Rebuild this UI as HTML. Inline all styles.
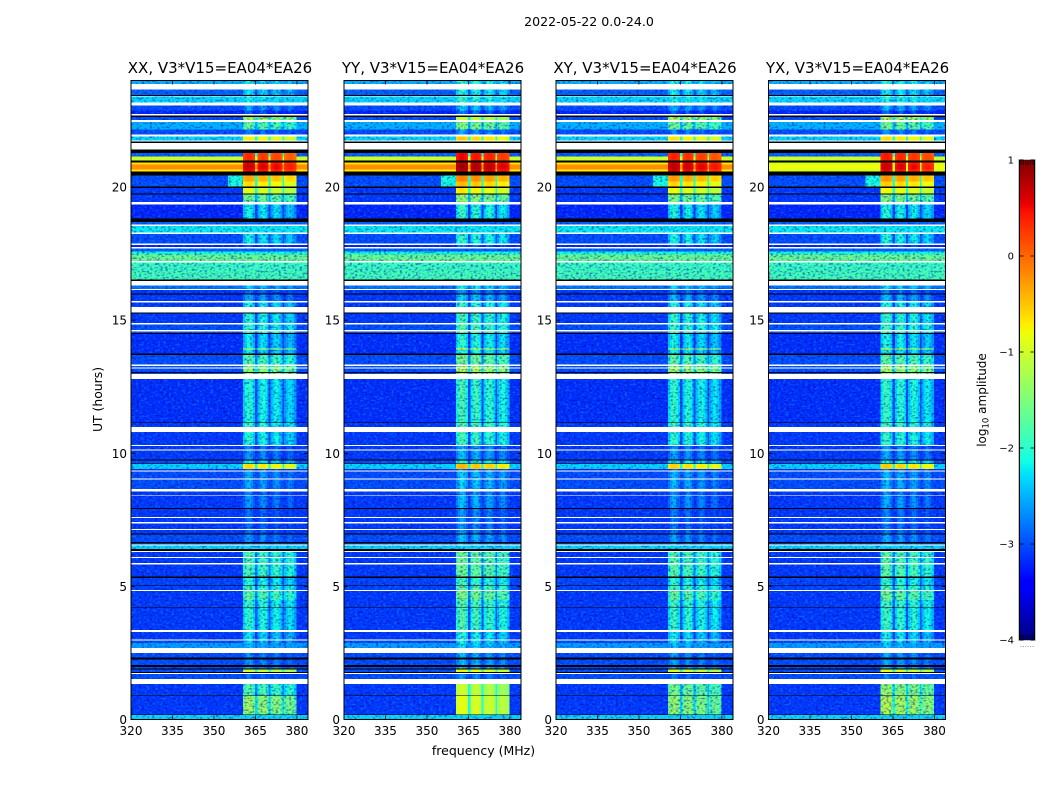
<!DOCTYPE html>
<html>
<head>
<meta charset="utf-8">
<title>2022-05-22 spectrogram panels</title>
<style>
html,body{margin:0;padding:0;background:#fff}
svg{display:block}
text{font-family:"DejaVu Sans","Liberation Sans",sans-serif;fill:#000}
</style>
</head>
<body>
<svg id="chart" xmlns="http://www.w3.org/2000/svg" width="1050" height="800" viewBox="0 0 1050 800">
  <defs>
    <filter id="speckleLight" x="0" y="0" width="100%" height="100%" color-interpolation-filters="sRGB">
      <feTurbulence type="fractalNoise" baseFrequency="0.36 0.5" numOctaves="1" seed="4"/>
      <feColorMatrix type="matrix" values="0 0 0 0 0.05  0 0 0 0 0.6  0 0 0 0 1  5 0 0 0 -2.55"/>
    </filter>
    <filter id="speckleDark" x="0" y="0" width="100%" height="100%" color-interpolation-filters="sRGB">
      <feTurbulence type="fractalNoise" baseFrequency="0.38 0.52" numOctaves="1" seed="11"/>
      <feColorMatrix type="matrix" values="0 0 0 0 0  0 0 0 0 0  0 0 0 0 0.6  0 5 0 0 -2.55"/>
    </filter>
  </defs>
  <text x="589" y="26" font-size="12.6" text-anchor="middle">2022-05-22 0.0-24.0</text>
  <text x="483.5" y="755" font-size="12.5" text-anchor="middle">frequency (MHz)</text>
  <text transform="translate(102 399.5) rotate(-90)" font-size="12.4" text-anchor="middle">UT (hours)</text>
  <text transform="translate(986 400) rotate(-90)" font-size="12" text-anchor="middle">log<tspan font-size="8.5" dy="2.5">10</tspan><tspan dy="-2.5"> amplitude</tspan></text>
  <g id="panels"></g>
  <g id="colorbar"></g>
</svg>
<script>
// ---- chart data ----
const panelTitles = ["XX, V3*V15=EA04*EA26", "YY, V3*V15=EA04*EA26", "XY, V3*V15=EA04*EA26", "YX, V3*V15=EA04*EA26"];
const panelWindowGain = [0, 0.2, 0.05, 0.1];
const freqTicks = [320, 335, 350, 365, 380];
const hourTicks = [0, 5, 10, 15, 20];
const freqRange = [320, 384];
const hourRange = [0, 24];
const colorTicks = [-4, -3, -2, -1, 0, 1];
const colorRange = [-4, 1];
// receiver sub-band edges in MHz and their relative log10 brightness
const windowStart = [360.5, 365.7, 370.5, 375.3];
const windowEnd = [364.8, 369.8, 374.7, 379.7];
const windowOffset = [0.08, 0, -0.08, -0.2];
// bandpass shape across one sub-band, relative log10 amplitude per sub-channel
const windowProfile = [-0.3, -0.1, 0.05, 0.05, -0.1, -0.3];
// W = flagged (white), K = no data (black)
const W = "white";
const K = "black";
// [start hour, background log10 amp, sub-band log10 amp]; each row runs to the next start
const scanRows = [
[0,-2.3,-2.3],[0.16,K,K],[0.19,-3.1,-1.45],[0.88,K,K],[0.91,-3.1,-1.8],[1.33,W,W],[1.53,-3,-2.9],[1.71,W,W],
[1.74,K,K],[1.78,-3,-1],[1.88,K,K],[1.92,-3,-2.6],[1.98,K,K],[2.05,-3,-2.7],[2.26,K,K],[2.33,-3,-2.7],
[2.5,W,W],[2.68,-2.6,-2.5],[2.88,-3,-2.4],[2.96,W,W],[3.01,-3.1,-2.3],[3.28,W,W],[3.36,-3.1,-2.05],[4.19,K,K],
[4.21,-3.1,-2],[4.48,-3.1,-1.75],[4.82,W,W],[4.86,-3.05,-1.9],[5.01,K,K],[5.04,-3.05,-2.1],[5.31,K,K],[5.37,-3.1,-1.85],
[5.83,W,W],[5.87,-3.1,-1.85],[6.07,W,W],[6.11,-3.1,-1.85],[6.29,W,W],[6.33,K,K],[6.4,-2.3,-2.3],[6.54,W,W],
[6.57,-2.9,-2.8],[6.61,K,K],[6.66,-3,-2.7],[6.95,K,K],[6.99,-3.1,-2.9],[7.12,W,W],[7.16,-3.1,-2.9],[7.37,W,W],
[7.41,-3.1,-2.9],[7.57,W,W],[7.61,-3.1,-2.9],[7.9,K,K],[7.94,-3.1,-2.7],[8.39,W,W],[8.42,-3.1,-2.8],[8.57,W,W],
[8.65,-3,-2.6],[9.02,W,W],[9.06,-3,-2.6],[9.31,W,W],[9.36,-3.2,-3],[9.4,-2.3,-0.7],[9.59,K,K],[9.62,-3,-2.2],
[9.73,K,K],[9.76,-3.1,-2.7],[10.11,W,W],[10.15,-3.1,-2.8],[10.27,W,W],[10.31,-3.1,-2.1],[10.79,W,W],[10.99,-3.1,-2],
[11.13,K,K],[11.16,-3.15,-2.1],[12.78,W,W],[12.98,-3,-1.4],[13.01,K,K],[13.05,-3,-1.4],[13.19,W,W],[13.23,-3,-1.4],
[13.28,W,W],[13.33,-3,-1.8],[13.69,K,K],[13.74,-3.15,-2.25],[13.9,-3.15,-1],[13.94,-3.15,-2.25],[14.48,K,K],[14.51,-3,-2],
[14.58,W,W],[14.62,-3,-2],[14.84,W,W],[14.89,-3.1,-2.1],[15.24,K,K],[15.28,W,W],[15.49,-3.1,-2.2],[15.67,W,W],
[15.71,-3.1,-2.6],[15.97,K,K],[16,-3.1,-2.9],[16.13,W,W],[16.16,-2.8,-2.4],[16.3,W,W],[16.47,K,K],[16.52,-1.85,-1.85],
[16.84,-1.9,-1.9],[17.17,W,W],[17.22,-1.6,-1.6],[17.46,-2.1,-2.1],[17.57,-2.9,-2.9],[17.69,W,W],[17.74,-3.2,-3],[17.82,W,W],
[17.87,-3,-2.2],[18.23,W,W],[18.29,-2.2,-2.2],[18.53,W,W],[18.59,-2.9,-2.9],[18.69,K,K],[18.81,-3.2,-2.2],[19.34,W,W],
[19.43,-3.1,-1.6],[19.72,K,K],[19.76,-3.1,-0.95],[19.97,K,K],[20.02,-3,-0.7],[20.2,-3,-0.4],[20.43,K,K],[20.58,-0.7,0.45],[20.66,-0.2,0.6],
[20.85,-0.65,0.5],[20.92,K,K],[21,-1,0.25],[21.15,-2.9,0.25],[21.27,K,K],[21.4,W,W],[21.66,K,K],[21.71,W,W],
[21.75,-2.3,-0.8],[21.9,W,W],[21.97,-3,-2.8],[22.16,-2.5,-1.7],[22.45,W,W],[22.52,-3,-1.3],[22.62,K,K],[22.68,W,W],
[22.74,-3.2,-3],[22.87,-3,-2.6],[23.06,W,W],[23.18,-2.3,-2.2],[23.4,W,W],[23.42,K,K],[23.46,-2.9,-2.3],[23.66,W,W],
[23.87,-2.5,-2.2]
];
// [panel index, start hour, background, sub-band] replacements where one product differs
const panelOverrides = [
[0,0.19,-3.1,-1.35],[1,0.19,-3.1,-0.95],[2,0.19,-3.1,-1.4],[3,0.19,-3.1,-1.2],
[1,0.91,-3.1,-1.1],[2,0.91,-3.1,-1.6],[3,0.91,-3.1,-1.4],
[3,20.58,-1.0,0.45],[3,20.66,-0.8,0.6],[3,20.85,-1.0,0.5]
];
// [start hour, end hour, start MHz, end MHz, log10 amp] broad emission beside the sub-bands
const shoulders = [[20.02,20.43,355,360.5,-2.1]];
const panelLeft = [131, 344, 556, 768.5];
const panelWidth = 177;
const plotTop = 80.5;
const plotBottom = 719.5;
const cbarLeft = 1019.5;
const cbarRight = 1034.5;
const cbarTop = 160;
const cbarBottom = 640;

// ---- helpers ----
const NS = "http://www.w3.org/2000/svg";
function make(parent, tag, attrs) {
  const node = document.createElementNS(NS, tag);
  for (const k in attrs) node.setAttribute(k, attrs[k]);
  parent.appendChild(node);
  return node;
}
function lerp(stops, t) {
  for (let i = 1; i < stops.length; i++) {
    if (t <= stops[i][0]) {
      const a = stops[i - 1], b = stops[i];
      return a[1] + (b[1] - a[1]) * (t - a[0]) / (b[0] - a[0]);
    }
  }
  return stops[stops.length - 1][1];
}
const jetR = [[0,0],[0.35,0],[0.66,1],[0.89,1],[1,0.5]];
const jetG = [[0,0],[0.125,0],[0.375,1],[0.64,1],[0.91,0],[1,0]];
const jetB = [[0,0.5],[0.11,1],[0.34,1],[0.65,0],[1,0]];
function colorOf(level) {
  if (level === W) return "#fff";
  if (level === K) return "#000";
  const t = Math.max(0, Math.min(1, (level - colorRange[0]) / (colorRange[1] - colorRange[0])));
  const c = [jetR, jetG, jetB].map(s => Math.round(255 * lerp(s, t)));
  return "rgb(" + c.join(",") + ")";
}
function xScale(p, mhz) { return panelLeft[p] + (mhz - freqRange[0]) / (freqRange[1] - freqRange[0]) * panelWidth; }
function yScale(h) { return plotBottom - (h - hourRange[0]) / (hourRange[1] - hourRange[0]) * (plotBottom - plotTop); }
function cbarY(v) { return cbarBottom - (v - colorRange[0]) / (colorRange[1] - colorRange[0]) * (cbarBottom - cbarTop); }

function cell(parent, p, f0, f1, h0, h1, level) {
  const r = make(parent, "rect", {
    x: xScale(p, f0), width: xScale(p, f1) - xScale(p, f0) + 0.4,
    y: yScale(h1), height: yScale(h0) - yScale(h1),
    fill: colorOf(level), "shape-rendering": "crispEdges"
  });
  
  
  return r;
}
function rowLevels(p, i) {
  let bg = scanRows[i][1], band = scanRows[i][2];
  for (const o of panelOverrides) {
    if (o[0] === p && o[1] === scanRows[i][0]) { bg = o[2]; band = o[3]; return [bg, band, 0]; }
  }
  return [bg, band, panelWindowGain[p]];
}

// ---- panels ----
const panelsRoot = document.getElementById("panels");
const strongLevel = -1.2;
panelTitles.forEach(function (title, p) {
  const g = make(panelsRoot, "g", {});
  
  
  const clipId = "clip" + p;
  const cp = make(g, "clipPath", { id: clipId });
  make(cp, "rect", { x: panelLeft[p], y: plotTop, width: panelWidth, height: plotBottom - plotTop });

  const cells = make(g, "g", { "clip-path": "url(#" + clipId + ")" });
  
  
  const weak = make(cells, "g", {});
  
  
  const light = make(cells, "rect", { x: panelLeft[p], y: plotTop, width: panelWidth, height: plotBottom - plotTop, filter: "url(#speckleLight)", opacity: 0.42 });
  
  
  const dark = make(cells, "rect", { x: panelLeft[p], y: plotTop, width: panelWidth, height: plotBottom - plotTop, filter: "url(#speckleDark)", opacity: 0.45 });
  
  
  const strong = make(cells, "g", {});
  
  

  scanRows.forEach(function (row, i) {
    const h0 = row[0];
    const h1 = i + 1 < scanRows.length ? scanRows[i + 1][0] : hourRange[1];
    if (row[1] === W || row[1] === K) {
      cell(strong, p, freqRange[0], freqRange[1], h0, h1, row[1]);
      return;
    }
    const lv = rowLevels(p, i);
    const bg = lv[0], band = lv[1], gain = lv[2];
    cell(bg > strongLevel ? strong : weak, p, freqRange[0], freqRange[1], h0, h1, bg);
    if (band > bg) {
      const bright = band + gain > -1.7;
      const profileScale = band > -1 ? 0.3 : (bright ? 0.5 : 1);
      const target = band + gain > strongLevel ? strong : weak;
      windowStart.forEach(function (f0, w) {
        const f1 = windowEnd[w];
        const level = band + gain + windowOffset[w];
        windowProfile.forEach(function (shape, j) {
          const a = f0 + (f1 - f0) * j / windowProfile.length;
          const b = f0 + (f1 - f0) * (j + 1) / windowProfile.length;
          cell(target, p, a, b, h0, h1, Math.max(bg, level + shape * profileScale));
        });
        if (w < windowStart.length - 1) {
          const gapLevel = band > -1.2 ? -2.1 : band - 0.9;
          cell(target, p, f1, windowStart[w + 1], h0, h1, Math.max(bg, gapLevel));
        }
      });
    }
  });
  shoulders.forEach(function (s) {
    cell(weak, p, s[2], s[3], s[0], s[1], s[4]);
  });

  // frame
  const frame = make(g, "rect", { x: panelLeft[p], y: plotTop, width: panelWidth, height: plotBottom - plotTop, fill: "none", stroke: "#000", "stroke-width": 1 });
  
  

  // title
  const t = make(g, "text", { x: panelLeft[p] + panelWidth / 2 + 0.5, y: 73, "font-size": 15, "text-anchor": "middle" });
  t.textContent = title;
  
  

  // x ticks
  freqTicks.forEach(function (f) {
    const x = xScale(p, f);
    const b = make(g, "line", { x1: x, x2: x, y1: plotBottom, y2: plotBottom - 4, stroke: "#000", "stroke-width": 0.8 });
    
    
    const u = make(g, "line", { x1: x, x2: x, y1: plotTop, y2: plotTop + 4, stroke: "#000", "stroke-width": 0.8 });
    
    
    const l = make(g, "text", { x: x, y: 735, "font-size": 12, "text-anchor": "middle" });
    l.textContent = f;
    
    
  });
  // y ticks
  hourTicks.forEach(function (h) {
    const y = yScale(h);
    const a = make(g, "line", { x1: panelLeft[p], x2: panelLeft[p] + 4, y1: y, y2: y, stroke: "#000", "stroke-width": 0.8 });
    
    
    const c = make(g, "line", { x1: panelLeft[p] + panelWidth, x2: panelLeft[p] + panelWidth - 4, y1: y, y2: y, stroke: "#000", "stroke-width": 0.8 });
    
    
    const l = make(g, "text", { x: panelLeft[p] - 4, y: y + 4.5, "font-size": 12, "text-anchor": "end" });
    l.textContent = h;
    
    
  });
});

// ---- colorbar ----
const cb = document.getElementById("colorbar");
const cbarSteps = 240;
for (let i = 0; i < cbarSteps; i++) {
  const v0 = colorRange[0] + (colorRange[1] - colorRange[0]) * i / cbarSteps;
  const v1 = colorRange[0] + (colorRange[1] - colorRange[0]) * (i + 1) / cbarSteps;
  const r = make(cb, "rect", { x: cbarLeft, width: cbarRight - cbarLeft, y: cbarY(v1), height: cbarY(v0) - cbarY(v1) + 0.5, fill: colorOf((v0 + v1) / 2), "shape-rendering": "crispEdges" });
  
  
}
const cbOuter = make(cb, "rect", { x: cbarLeft - 1, y: cbarTop - 0.5, width: cbarRight - cbarLeft + 2, height: cbarBottom - cbarTop + 1, fill: "none", stroke: "#c4c4c4", "stroke-width": 1 });


const cbL = make(cb, "line", { x1: cbarLeft, x2: cbarLeft, y1: cbarTop, y2: cbarBottom, stroke: "#000", "stroke-width": 1 });


const cbR = make(cb, "line", { x1: cbarRight, x2: cbarRight, y1: cbarTop, y2: cbarBottom, stroke: "#000", "stroke-width": 1 });


colorTicks.forEach(function (v) {
  const y = cbarY(v);
  const a = make(cb, "line", { x1: cbarLeft, x2: cbarLeft + 4, y1: y, y2: y, stroke: "#000", "stroke-width": 0.8 });
  
  
  const b = make(cb, "line", { x1: cbarRight, x2: cbarRight - 4, y1: y, y2: y, stroke: "#000", "stroke-width": 0.8 });
  
  
  const l = make(cb, "text", { x: 1014, y: y + 3.5, "font-size": 10, "text-anchor": "end" });
  l.textContent = v < 0 ? "\u2212" + Math.abs(v) : String(v);
  
  
});
[0, 0.2, 0.4, 0.6, 0.8, 1].forEach(function (frac) {
  const x = cbarLeft + 1.5 + (cbarRight - cbarLeft - 3) * frac;
  const top = make(cb, "line", { x1: x, x2: x, y1: cbarTop, y2: cbarTop + 5, stroke: "#000", "stroke-width": 0.7 });
  
  
  const bottom = make(cb, "line", { x1: x, x2: x, y1: cbarBottom, y2: cbarBottom - 5, stroke: "#000", "stroke-width": 0.7 });
  
  
  const dot = make(cb, "rect", { x: x - 0.5, y: 646, width: 1, height: 1, fill: "#999" });
  
  
});
</script>
</body>
</html>
